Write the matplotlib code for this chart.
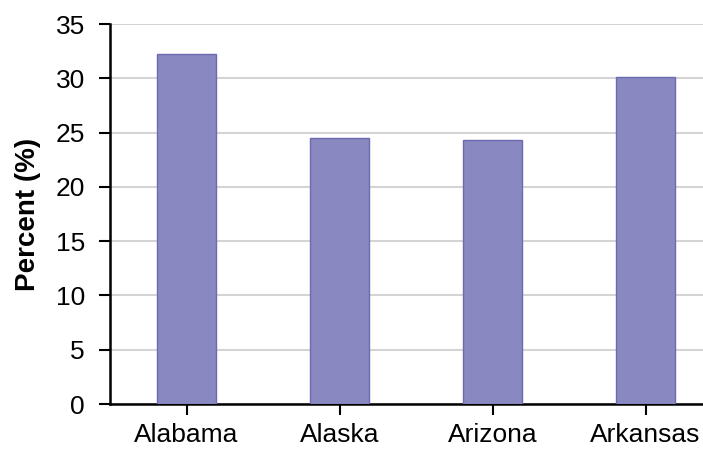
import matplotlib
matplotlib.use('Agg')
import matplotlib.pyplot as plt

states = ['Alabama', 'Alaska', 'Arizona', 'Arkansas']
percent = [32.2, 24.5, 24.3, 30.1]
yticks = [0, 5, 10, 15, 20, 25, 30, 35]

plt.rcParams['font.family'] = ['Liberation Sans', 'DejaVu Sans']

fig = plt.figure(figsize=(7.03, 4.5), dpi=100)
ax = fig.add_axes([0.1565, 0.1022, 0.8706, 0.8444])

x = range(len(states))
ax.bar(x, percent, width=0.39, color='#8a88c0', edgecolor='#6c6ab2', linewidth=1, zorder=3)

ax.set_xlim(-0.5, 3.5)
ax.set_ylim(0, 35)
ax.set_yticks(yticks)
ax.set_xticks(list(x))
ax.set_xticklabels(states, fontsize=19)
ax.tick_params(axis='y', labelsize=19, length=8, width=1.5, pad=10)
ax.tick_params(axis='x', length=8, width=1.5, pad=6)
ax.yaxis.grid(True, color='#d4d4d4', linewidth=1.5, zorder=0)
ax.set_axisbelow(True)

for s in ['top', 'right']:
    ax.spines[s].set_visible(False)
for s in ['left', 'bottom']:
    ax.spines[s].set_linewidth(1.8)

ax.set_ylabel('Percent (%)', fontsize=20, fontweight='bold')
ax.yaxis.set_label_coords(-0.112, 0.5)

fig.savefig('out.png', dpi=100)
